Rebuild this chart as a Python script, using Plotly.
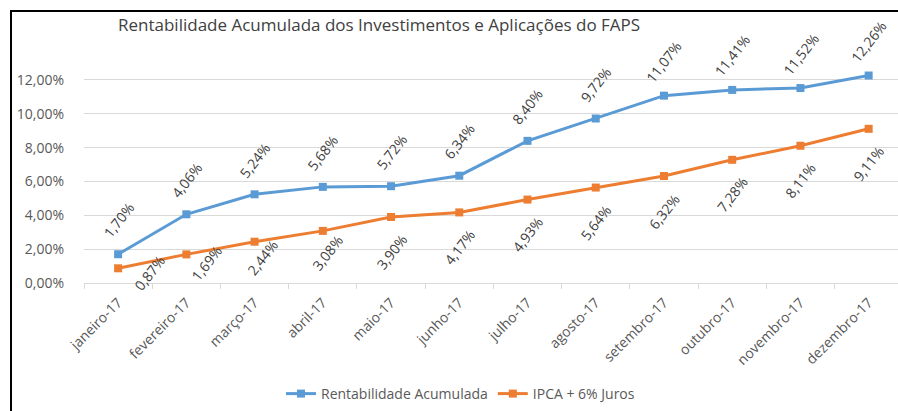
"""Rentabilidade acumulada do FAPS vs meta atuarial (IPCA + 6%) em 2017."""

import plotly.graph_objects as go

MONTHS = [
    "janeiro-17", "fevereiro-17", "março-17", "abril-17", "maio-17", "junho-17",
    "julho-17", "agosto-17", "setembro-17", "outubro-17", "novembro-17", "dezembro-17",
]
RENTABILIDADE = [1.70, 4.06, 5.24, 5.68, 5.72, 6.34, 8.40, 9.72, 11.07, 11.41, 11.52, 12.26]
IPCA_6 = [0.87, 1.69, 2.44, 3.08, 3.90, 4.17, 4.93, 5.64, 6.32, 7.28, 8.11, 9.11]
Y_TICKS = [0, 2, 4, 6, 8, 10, 12]

BLUE = "#5B9BD5"
ORANGE = "#ED7D31"
TEXT = "#404040"
GRID = "#D9D9D9"
FONT = "Open Sans"

# Excel nudged the first orange labels up so they stay inside the plot area.
ORANGE_NUDGE = [(31, -5), (20, -9), (8, -16), (5, -22)]


def pct(v: float) -> str:
    return f"{v:.2f}%".replace(".", ",")


fig = go.Figure()
fig.add_trace(
    go.Scatter(
        x=MONTHS,
        y=[v / 100 for v in RENTABILIDADE],
        mode="lines+markers",
        name="Rentabilidade Acumulada",
        line={"color": BLUE, "width": 3},
        marker={"symbol": "square", "size": 8, "color": BLUE},
    )
)
fig.add_trace(
    go.Scatter(
        x=MONTHS,
        y=[v / 100 for v in IPCA_6],
        mode="lines+markers",
        name="IPCA + 6% Juros",
        line={"color": ORANGE, "width": 3},
        marker={"symbol": "square", "size": 8, "color": ORANGE},
    )
)

annotations = []
for m, v in zip(MONTHS, RENTABILIDADE):
    annotations.append(
        dict(x=m, y=v / 100, text=pct(v), showarrow=False, textangle=-52,
             yshift=34, font={"family": FONT, "size": 14, "color": TEXT})
    )
for i, (m, v) in enumerate(zip(MONTHS, IPCA_6)):
    dx, dy = ORANGE_NUDGE[i] if i < len(ORANGE_NUDGE) else (0, -35)
    annotations.append(
        dict(x=m, y=v / 100, text=pct(v), showarrow=False, textangle=-52,
             xshift=dx, yshift=dy, font={"family": FONT, "size": 14, "color": TEXT})
    )

fig.update_layout(
    width=898,
    height=411,
    margin={"l": 84, "r": 0, "t": 63, "b": 128},
    paper_bgcolor="white",
    plot_bgcolor="white",
    separators=",.",
    font={"family": FONT, "color": "#595959"},
    title={
        "text": "Rentabilidade Acumulada dos Investimentos e Aplicações do FAPS",
        "x": 118 / 898, "xanchor": "left", "xref": "container",
        "y": 1 - 25 / 411, "yanchor": "middle", "yref": "container",
        "font": {"family": FONT, "size": 17, "color": TEXT},
    },
    legend={
        "orientation": "h",
        "x": 281 / 898, "xanchor": "left", "xref": "container",
        "y": 1 - 394 / 411, "yanchor": "middle", "yref": "container",
        "font": {"family": FONT, "size": 14, "color": "#595959"},
        "itemwidth": 30,
    },
    annotations=annotations,
    shapes=[
        dict(type="rect", xref="paper", yref="paper",
             x0=(11 - 84) / 814, x1=1.05, y0=-0.7, y1=(283 - 11) / 220,
             line={"color": "black", "width": 2}, fillcolor="rgba(0,0,0,0)"),
    ],
)
fig.update_xaxes(
    range=[-0.5, 11.43],
    tickangle=-45,
    tickson="boundaries",
    ticks="outside",
    ticklen=5,
    tickcolor=GRID,
    showline=True,
    linecolor=GRID,
    linewidth=1,
    showgrid=False,
    ticklabelstandoff=5,
    tickfont={"family": FONT, "size": 14, "color": "#595959"},
)
fig.update_yaxes(
    range=[0, 0.13],
    tickvals=[t / 100 for t in Y_TICKS],
    tickformat=".2%",
    showgrid=True,
    gridcolor=GRID,
    gridwidth=1,
    zeroline=False,
    ticklabelstandoff=19,
    tickfont={"family": FONT, "size": 14, "color": "#595959"},
)

fig.write_html(
    "out.html",
    config={"displayModeBar": False},
    post_script="document.body.style.margin='0';",
)
